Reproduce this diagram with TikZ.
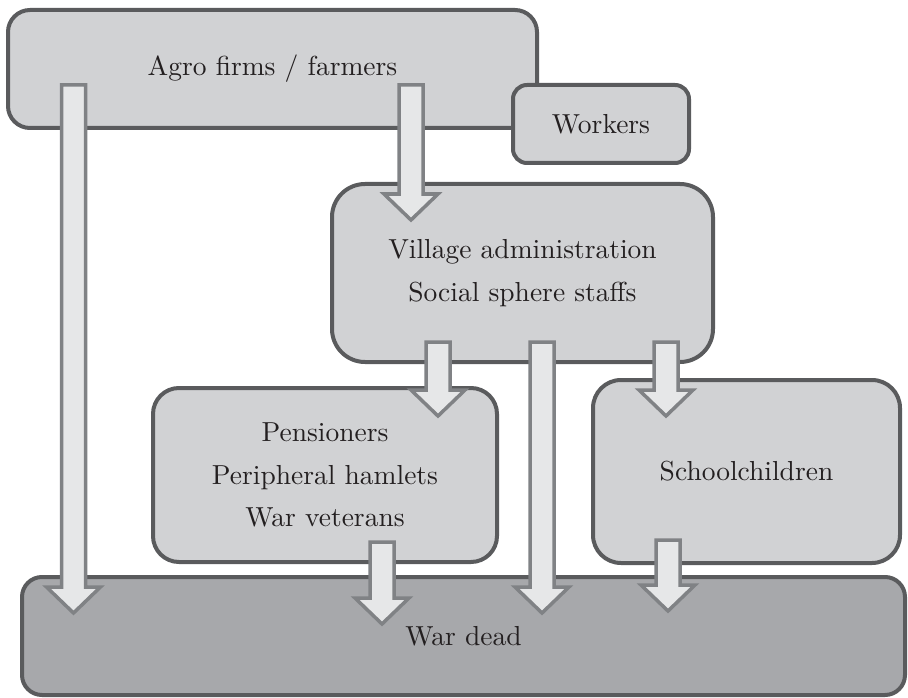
\documentclass[tikz,border=0pt]{standalone}
\usepackage{fontspec}
\setmainfont{lmroman10-regular}[Extension=.otf]
\usetikzlibrary{calc}
\definecolor{boxfill}{HTML}{D1D2D4}
\definecolor{deadfill}{HTML}{A7A8AB}
\definecolor{boxline}{HTML}{5A5B5D}
\definecolor{arrfill}{HTML}{E6E7E8}
\definecolor{arrline}{HTML}{808285}
\definecolor{txt}{HTML}{231F20}
\tikzset{
  box/.style={draw=boxline, fill=boxfill, line width=4pt, inner sep=0pt,
    align=center, text=txt, font={\fontsize{27.5}{42.5}\selectfont}},
  barrow/.style={draw=arrline, fill=arrfill, line width=3.5pt, line join=miter}
}
\newcommand\blockarrow[2]{%
  \path[barrow] let \p1=(#1), \p2=(#2) in
    (\x1-12pt,\y1) -- (\x1+12pt,\y1) -- (\x1+12pt,\y2+26pt) -- (\x1+27pt,\y2+26pt)
    -- (\x1,\y2) -- (\x1-27pt,\y2+26pt) -- (\x1-12pt,\y2+26pt) -- cycle;}
\begin{document}
\begin{tikzpicture}[x=1pt,y=-1pt]
\useasboundingbox (0,0) rectangle (908,698);
% boxes
\node[box, rounded corners=20pt, fill=deadfill, minimum width=883pt, minimum height=118pt] (dead) at (463.5,636) {War dead};
\node[box, rounded corners=22pt, minimum width=529pt, minimum height=118pt] (agro) at (272.5,69) {Agro firms / farmers};
\node[box, rounded corners=14pt, minimum width=176pt, minimum height=78pt] (workers) at (601,124) {Workers};
\node[box, rounded corners=33pt, minimum width=381pt, minimum height=178pt] (village) at (522.5,273) {Village administration\\Social sphere staffs};
\node[box, rounded corners=26pt, minimum width=344pt, minimum height=174pt] (pens) at (325,475) {Pensioners\\Peripheral hamlets\\War veterans};
\node[box, rounded corners=28pt, minimum width=307pt, minimum height=183pt] (school) at (746.5,471.5) {Schoolchildren};
% arrow end points
\coordinate (agroA) at (73.5,85);   \coordinate (deadA) at (73.5,613);
\coordinate (agroB) at (411,85);    \coordinate (villB) at (411,220);
\coordinate (villC) at (438,342);   \coordinate (pensC) at (438,416);
\coordinate (villD) at (542,342);   \coordinate (deadD) at (542,613);
\coordinate (villE) at (666,342);   \coordinate (schoE) at (666,416);
\coordinate (pensF) at (382,542);   \coordinate (deadF) at (382,624);
\coordinate (schoG) at (668,540);   \coordinate (deadG) at (668,611);
% arrows
\blockarrow{agroA}{deadA}
\blockarrow{agroB}{villB}
\blockarrow{villC}{pensC}
\blockarrow{villD}{deadD}
\blockarrow{villE}{schoE}
\blockarrow{pensF}{deadF}
\blockarrow{schoG}{deadG}
\end{tikzpicture}
\end{document}
